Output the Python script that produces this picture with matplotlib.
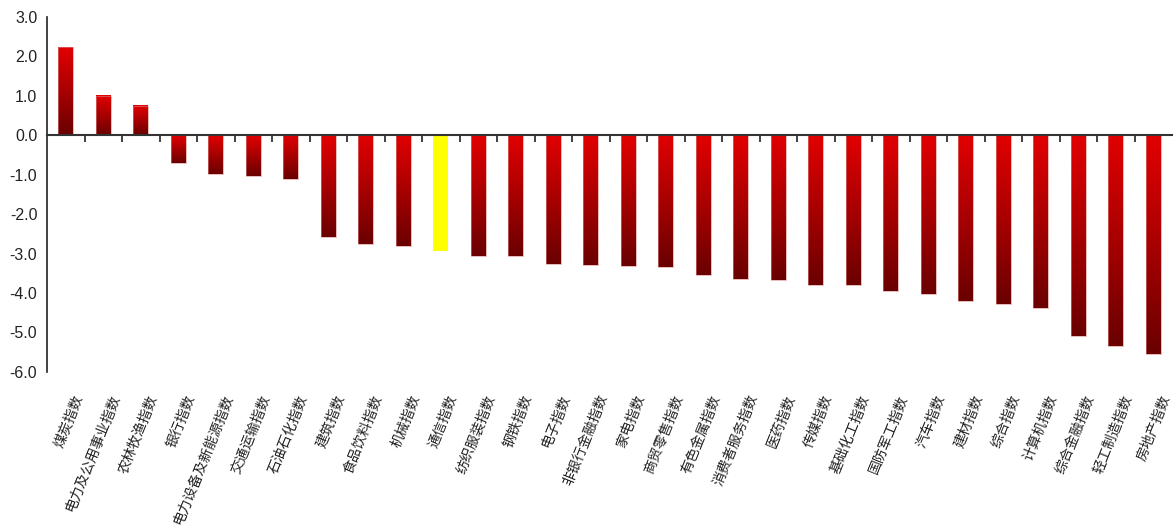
import numpy as np
import matplotlib
matplotlib.use("Agg")
import matplotlib.pyplot as plt
from matplotlib.colors import LinearSegmentedColormap
from matplotlib.transforms import offset_copy

plt.rcParams['font.family'] = ['Noto Sans CJK SC', 'DejaVu Sans']

categories = [
    "煤炭指数", "电力及公用事业指数", "农林牧渔指数", "银行指数", "电力设备及新能源指数",
    "交通运输指数", "石油石化指数", "建筑指数", "食品饮料指数", "机械指数",
    "通信指数", "纺织服装指数", "钢铁指数", "电子指数", "非银行金融指数",
    "家电指数", "商贸零售指数", "有色金属指数", "消费者服务指数", "医药指数",
    "传媒指数", "基础化工指数", "国防军工指数", "汽车指数", "建材指数",
    "综合指数", "计算机指数", "综合金融指数", "轻工制造指数", "房地产指数",
]
values = [
    2.23, 0.99, 0.74, -0.70, -0.97,
    -1.03, -1.12, -2.58, -2.75, -2.82,
    -2.93, -3.06, -3.06, -3.26, -3.29,
    -3.31, -3.34, -3.54, -3.64, -3.68,
    -3.80, -3.80, -3.95, -4.02, -4.19,
    -4.28, -4.37, -5.08, -5.35, -5.54,
]
highlight = "通信指数"
yticks = [3.0, 2.0, 1.0, 0.0, -1.0, -2.0, -3.0, -4.0, -5.0, -6.0]

fig = plt.figure(figsize=(11.76, 5.32), dpi=100)
ax = fig.add_axes([0.040, 0.301, 0.9566, 0.667])

red_cmap = LinearSegmentedColormap.from_list("redgrad", ["#6a0000", "#a80000", "#e20000"])
grad = np.linspace(0, 1, 256).reshape(-1, 1)  # bottom -> top

width = 0.4
x = np.arange(len(categories))
for xi, name, v in zip(x, categories, values):
    lo, hi = min(0, v), max(0, v)
    if name == highlight:
        ax.bar(xi, v, width=width, color="#ffff00", edgecolor="none", zorder=2)
    else:
        ax.imshow(grad, cmap=red_cmap, origin="lower", aspect="auto",
                  extent=[xi - width / 2, xi + width / 2, lo, hi],
                  interpolation="bilinear", zorder=2)
        ax.bar(xi, v, width=width, facecolor="none", edgecolor="#d98888",
               linewidth=0.4, zorder=3)

ax.set_xlim(-0.5, len(categories) - 0.5)
ax.set_ylim(-6.0, 3.0)

# axes styling
for side in ("top", "right"):
    ax.spines[side].set_visible(False)
ax.spines["bottom"].set_position(("data", 0))
ax.spines["bottom"].set_color("#333333")
ax.spines["bottom"].set_linewidth(1.5)
ax.spines["bottom"].set_zorder(4)
ax.spines["left"].set_color("#222222")
ax.spines["left"].set_linewidth(1.2)

ax.set_yticks(yticks)
ax.set_yticklabels([f"{t:.1f}" for t in yticks], fontsize=11.5, family="Liberation Sans",
                   color="#222222")
ax.tick_params(axis="y", length=0, pad=7)

ax.set_xticks(np.arange(0.5, len(categories) - 0.5, 1.0))
ax.set_xticklabels([])
ax.tick_params(axis="x", direction="out", length=5, width=1.3, color="#333333")

# rotated category labels below the plot
base = ax.get_xaxis_transform()
for xi, name in zip(x, categories):
    tr = offset_copy(base, fig=fig, x=9.5, y=-17, units="points")
    ax.text(xi, 0, name, transform=tr, rotation=68, rotation_mode="anchor",
            ha="right", va="center", fontsize=10, color="#222222", clip_on=False)

fig.savefig("out.png", dpi=100, facecolor="white")
